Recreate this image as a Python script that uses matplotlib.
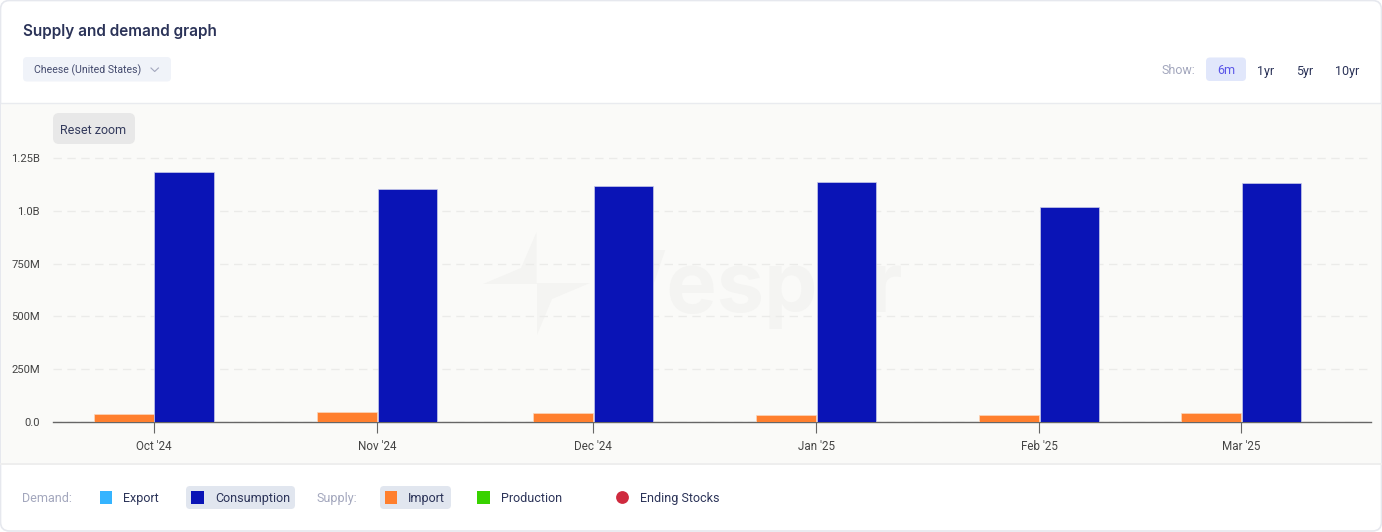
import matplotlib
matplotlib.use("Agg")
import matplotlib.pyplot as plt
import matplotlib.dates as mdates
from matplotlib.patches import FancyBboxPatch, Rectangle, Circle, Polygon
from datetime import date

months = ["Oct '24", "Nov '24", "Dec '24", "Jan '25", "Feb '25", "Mar '25"]
month_dates = [date(2024, 10, 1), date(2024, 11, 1), date(2024, 12, 1),
               date(2025, 1, 1), date(2025, 2, 1), date(2025, 3, 1)]
consumption = [1.182e9, 1.105e9, 1.119e9, 1.138e9, 1.020e9, 1.131e9]
imports = [38e6, 46e6, 41e6, 33e6, 33e6, 41e6]
y_ticks = [0, 250e6, 500e6, 750e6, 1.0e9, 1.25e9]
y_labels = ["0.0", "250M", "500M", "750M", "1.0B", "1.25B"]
periods = ["6m", "1yr", "5yr", "10yr"]

W, H = 1382, 532
NAVY = "#2b3358"
MUTED = "#a3a7bd"
FONT = "Roboto"

fig = plt.figure(figsize=(W / 100, H / 100), dpi=100, facecolor="#ffffff")

# Page-level layer in pixel coordinates
bg = fig.add_axes([0, 0, 1, 1], zorder=0)
bg.set_xlim(0, W)
bg.set_ylim(H, 0)
bg.axis("off")


def rbox(x0, y0, x1, y1, r, fc, ec="none", lw=0, z=1):
    bg.add_patch(FancyBboxPatch((x0 + r, y0 + r), x1 - x0 - 2 * r, y1 - y0 - 2 * r,
                                boxstyle=f"round,pad={r},rounding_size={r}",
                                fc=fc, ec=ec, lw=lw, zorder=z))


rbox(0.5, 0.5, 1381.5, 531, 9, "#ffffff", "#e6e8ee", 1.2, 1)
bg.add_patch(Rectangle((1, 103.5), W - 2, 360, fc="#fafaf8", ec="none", zorder=2))
bg.plot([1, W - 1], [103.3, 103.3], color="#e9ebef", lw=1, zorder=3)
bg.plot([1, W - 1], [463.7, 463.7], color="#eeeeee", lw=1.4, zorder=3)

# Watermark
bg.add_patch(Polygon([(536.5, 232), (536.5, 283), (590, 283), (552, 299), (537, 335), (537, 284),
                      (483, 284), (521, 268)],
                     fc="#f4f4f2", ec="none", zorder=3))
bg.text(604, 312, "Vesper", fontsize=61, family="Inter", fontweight="bold", color="#f4f4f2",
        va="baseline", ha="left", zorder=3)

bg.text(22.8, 31.5, "Supply and demand graph", fontsize=11, family="Inter", fontweight="semibold",
        color=NAVY, va="center", ha="left", zorder=5)
rbox(23, 57, 171, 81.5, 4, "#f0f3f9", z=4)
bg.text(34, 70.5, "Cheese (United States)", fontsize=7.6, family=FONT, color="#444b6e",
        va="center", ha="left", zorder=5)
bg.plot([151, 154.7, 158.4], [68, 71.5, 68], color="#a3a7bd", lw=0.8, zorder=5)

rbox(53, 113, 135, 144, 6, "#e8e8e8", z=4)
bg.text(93.5, 130, "Reset zoom", fontsize=9.0, family=FONT, color="#333a5c",
        va="center", ha="center", zorder=5)

bg.text(1178.3, 71, "Show:", fontsize=9.0, family=FONT, color=MUTED, va="center", ha="center", zorder=5)
rbox(1206, 57.5, 1246, 81, 4, "#e1e7fb", z=4)
for label, cx, col in zip(periods, [1226, 1265.8, 1304.5, 1347], ["#5a55e8", NAVY, NAVY, NAVY]):
    bg.text(cx, 71, label, fontsize=9.0, family=FONT, color=col, va="center", ha="center", zorder=5)

# Legend
LY = 498.5
bg.text(22.5, LY, "Demand:", fontsize=9.0, family=FONT, color=MUTED, va="center", ha="left", zorder=5)
bg.text(317, LY, "Supply:", fontsize=9.0, family=FONT, color=MUTED, va="center", ha="left", zorder=5)
rbox(186, 486, 295, 509, 4, "#e1e6ef", z=4)
rbox(380, 486, 451, 509, 4, "#e1e6ef", z=4)
for x0, col in [(100, "#35b4ff"), (191.5, "#0a14b6"), (385, "#ff7f2e"), (477.5, "#38d200")]:
    bg.add_patch(Rectangle((x0, 491), 12.5, 12.5, fc=col, ec="none", zorder=5))
bg.add_patch(Circle((622.5, 497.5), 6.4, fc="#cf2a3e", ec="none", zorder=5))
for label, x0 in [("Export", 123), ("Consumption", 214.8), ("Import", 408),
                  ("Production", 501.5), ("Ending Stocks", 640)]:
    bg.text(x0, LY, label, fontsize=9.0, family=FONT, color=NAVY, va="center", ha="left", zorder=5)

# Chart
AX_L, AX_R, AX_T, AX_B = 53, 1371, 140, 422
ax = fig.add_axes([AX_L / W, 1 - AX_B / H, (AX_R - AX_L) / W, (AX_B - AX_T) / H], zorder=2)
ax.patch.set_alpha(0)

TICK0, TICK5 = 154, 1241
px_per_day = (TICK5 - TICK0) / (month_dates[-1] - month_dates[0]).days
x = mdates.date2num(month_dates)
left = x[0] - (TICK0 - AX_L) / px_per_day
right = x[-1] + (AX_R - TICK5) / px_per_day
ax.set_xlim(left, right)
bar_w = 59.5 / px_per_day
gap = 0.5 / px_per_day

ax.bar(x - gap, imports, width=-bar_w, align="edge", color="#ff7f2e",
       edgecolor="#fbd7bd", linewidth=0.5, zorder=3)
ax.bar(x + gap, consumption, width=bar_w, align="edge", color="#0a14b6",
       edgecolor="#c9cbe9", linewidth=0.5, zorder=3)

px_per_val = (422 - 158) / 1.25e9
ax.set_ylim(0, (AX_B - AX_T) / px_per_val)
ax.set_yticks(y_ticks, y_labels)
ax.set_xticks(x, months)
ax.grid(axis="y", color="#ebebe9", lw=1, ls=(0, (6, 4)), zorder=1)
ax.set_axisbelow(True)
for s in ["top", "left", "right"]:
    ax.spines[s].set_visible(False)
ax.spines["bottom"].set_color("#666666")
ax.spines["bottom"].set_linewidth(1)
ax.tick_params(axis="y", length=0, pad=9.5, labelsize=8.1, labelcolor="#444444")
ax.tick_params(axis="x", length=8, width=0.8, color="#666666", pad=5.2, labelsize=8.4, labelcolor="#444444")
for t in ax.get_xticklabels() + ax.get_yticklabels():
    t.set_family(FONT)

fig.savefig("out.png", dpi=100, facecolor=fig.get_facecolor())
